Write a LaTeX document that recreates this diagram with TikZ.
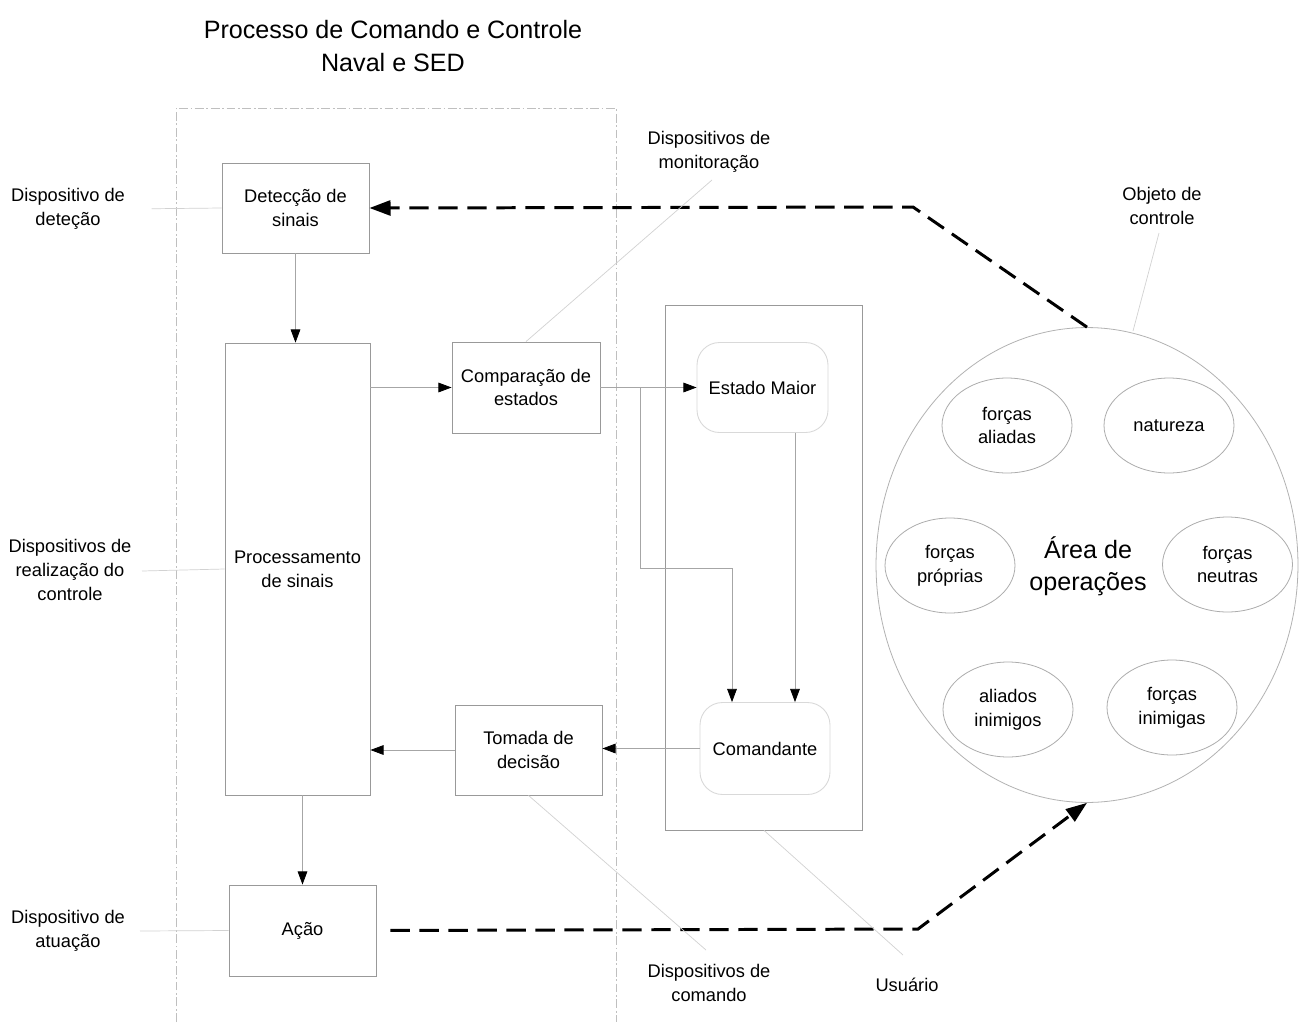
\documentclass[tikz,border=0pt]{standalone}
\usepackage{fontspec}
\setmainfont{Liberation Sans}
\usetikzlibrary{arrows.meta,shapes.geometric,calc}
\newcommand\lblfont{\fontsize{10.4}{13.6}\selectfont}
\newcommand\bigfont{\fontsize{14.3}{18.4}\selectfont}

\begin{document}
\begin{tikzpicture}[x=0.02cm,y=-0.02cm,
  box/.style={draw=gray!80, line width=0.5pt, align=center, inner sep=0pt,
    font=\lblfont, minimum width=2.94cm, minimum height=1.8cm},
  rbox/.style={box, draw=gray!30, rounded corners=0.45cm, minimum width=2.62cm},
  ell/.style={ellipse, draw=gray!65, line width=0.45pt, align=center, inner sep=0pt,
    font=\lblfont, minimum width=2.6cm, minimum height=1.9cm},
  lbl/.style={align=center, inner sep=1pt, font=\lblfont},
  flow/.style={draw=gray!70, line width=0.45pt,
    -{Triangle[length=7.5pt,width=5.5pt,color=black]}},
  lead/.style={draw=gray!35, line width=0.4pt},
  frame/.style={draw=gray!50, line width=0.4pt,
    dash pattern=on 5pt off 1.5pt on 1pt off 1.5pt},
  bolddash/.style={draw=black, line width=1.7pt, dash pattern=on 11pt off 5.5pt},
  boldtip/.style={-{Triangle[length=12pt,width=8.5pt]}}
]
% canvas
\path[fill=white] (0,0) rectangle (1299,1025);

% title
\node[align=center, font=\bigfont, inner sep=0pt] (title) at (393,46)
  {Processo de Comando e Controle\\Naval e SED};

% open frame of the command and control process
\draw[frame] (176,1022) -- (176,108) -- (616,108) -- (616,1022);

% process blocks
\node[box] (det) at (295.5,208) {Detecção de\\sinais};
\node[box, minimum width=2.9cm, minimum height=9.04cm] (proc) at (297.5,569)
  {Processamento\\de sinais};
\node[box, minimum width=2.96cm, minimum height=1.82cm] (cmp) at (526,387.5)
  {Comparação de\\estados};
\node[box] (tom) at (528.5,750) {Tomada de\\decisão};
\node[box, minimum height=1.82cm] (aca) at (302.5,930.5) {Ação};

% user block
\node[draw=gray!80, line width=0.5pt, minimum width=3.94cm, minimum height=10.5cm,
  inner sep=0pt] (cont) at (764,567.5) {};
\node[rbox] (em) at (762.5,387.5) {Estado Maior};
\node[rbox, minimum width=2.6cm, minimum height=1.84cm] (cmd) at (765,748.5)
  {Comandante};

% area of operations
\node[ellipse, draw=gray!60, line width=0.45pt, minimum width=8.44cm,
  minimum height=9.5cm, inner sep=0pt] (circ) at (1087,565) {};
\node[align=center, font=\bigfont, inner sep=0pt] (area) at (1088,566)
  {Área de\\operações};
\node[ell] (fa) at (1007,425.5) {forças\\aliadas};
\node[ell] (nat) at (1169,425.5) {natureza};
\node[ell] (fp) at (950,565.5) {forças\\próprias};
\node[ell] (fn) at (1227.5,564.5) {forças\\neutras};
\node[ell] (ai) at (1008,709.5) {aliados\\inimigos};
\node[ell] (fi) at (1172,707.5) {forças\\inimigas};

% flows
\draw[flow] (det.south) -- (det.south |- proc.north);
\draw[flow] (proc.east |- cmp.west) -- (cmp.west);
\draw[flow] (cmp.east |- em.west) -- (em.west);
\coordinate (br) at (640,387.5);
\coordinate (bj) at (640,568);
\draw[flow] (br) -- (bj) -| ([xshift=-0.66cm]cmd.north);
\draw[flow] ([xshift=0.65cm]em.south) -- ([xshift=0.65cm]em.south |- cmd.north);
\draw[flow] (cmd.west) -- (cmd.west -| tom.east);
\draw[flow] (tom.west) -- (tom.west -| proc.east);
\draw[flow] ([xshift=0.1cm]proc.south) -- ([xshift=0.1cm]proc.south |- aca.north);

% feedback loop through the area of operations
\coordinate (k1) at (913,207);
\coordinate (k2) at (918,929);
\draw[bolddash, boldtip] (circ.north) -- (k1) -- (det.east);
\draw[bolddash, boldtip, shorten <=8pt] (aca.east) -- (k2) -- (circ.south);

% device labels
\node[lbl] (ldet) at (68,209) {Dispositivo de\\deteção};
\node[lbl] (lreal) at (70,570) {Dispositivos de\\realização do\\controle};
\node[lbl] (latu) at (68,931) {Dispositivo de\\atuação};
\node[lbl] (lmon) at (709,152) {Dispositivos de\\monitoração};
\node[lbl] (lcom) at (709,983) {Dispositivos de\\comando};
\node[lbl] (lusr) at (907,985) {Usuário};
\node[lbl] (lobj) at (1162,206) {Objeto de\\controle};

% leader lines
\draw[lead, shorten <=14pt] (ldet.east) -- (det.west);
\draw[lead] (142,571) -- (proc.west);
\draw[lead] (140,931) -- (aca.west);
\draw[lead] (712,180) -- (cmp.north);
\draw[lead] (tom.south) -- (706,950);
\draw[lead] (cont.south) -- (903,955);
\draw[lead] (1159,233) -- (1133,331);
\end{tikzpicture}
\end{document}
